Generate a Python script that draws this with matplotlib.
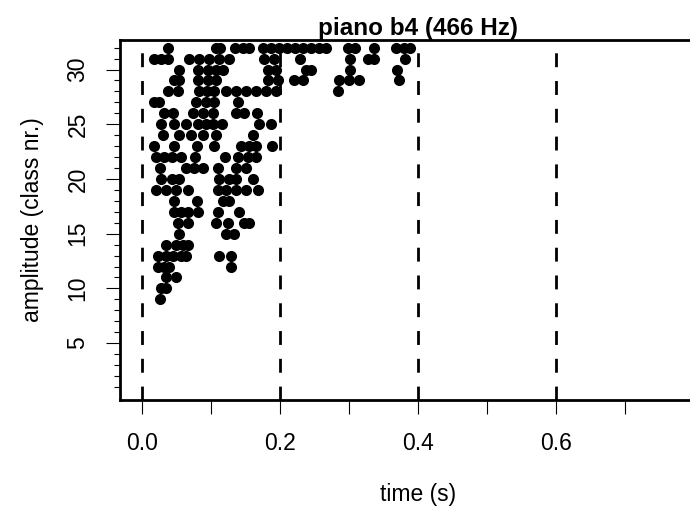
import matplotlib
matplotlib.use("Agg")
import matplotlib.pyplot as plt

# onset times (s) of detected events, one list per amplitude class
c32 = [.038, .107, .113, .135, .146, .155, .175, .187, .198, .210, .221, .233, .245, .256, .266, .298, .308, .336, .368, .379, .389]
c31 = [.017, .027, .038, .068, .082, .097, .111, .126, .177, .191, .229, .302, .327, .336, .381]
c30 = [.054, .081, .096, .107, .117, .182, .194, .237, .245, .301, .370]
c29 = [.046, .054, .081, .096, .107, .182, .197, .220, .233, .285, .300, .314, .372]
c28 = [.038, .052, .082, .094, .104, .122, .136, .151, .165, .179, .194, .284]
c27 = [.017, .025, .078, .093, .104, .139]
c26 = [.032, .045, .074, .088, .103, .136, .148, .166]
c25 = [.027, .046, .064, .081, .093, .103, .116, .169, .187]
c24 = [.030, .054, .071, .088, .107, .161]
c23 = [.017, .046, .080, .104, .143, .155, .165, .188]
c22 = [.020, .032, .043, .056, .077, .120, .139, .153, .165]
c21 = [.026, .064, .075, .088, .110, .136, .151]
c20 = [.027, .043, .054, .111, .126, .136, .161]
c19 = [.020, .035, .049, .067, .110, .122, .136, .151, .168]
c18 = [.046, .080, .117, .126]
c17 = [.046, .056, .067, .081, .110, .140]
c16 = [.052, .067, .107, .124, .148, .155]
c15 = [.054, .122, .133]
c14 = [.035, .049, .059, .067]
c13 = [.023, .035, .045, .056, .064, .111, .129]
c12 = [.023, .032, .039, .129]
c11 = [.035, .049]
c10 = [.027, .035]
c9 = [.026]

classes = list(range(32, 8, -1))
times = [c32, c31, c30, c29, c28, c27, c26, c25, c24, c23, c22, c21,
         c20, c19, c18, c17, c16, c15, c14, c13, c12, c11, c10, c9]

marker_times = [0.0, 0.2, 0.4, 0.6]
x_ticks = [0.0, 0.1, 0.2, 0.3, 0.4, 0.5, 0.6, 0.7, 0.8]
x_labels = ["0.0", "", "0.2", "", "0.4", "", "0.6", "", ""]
y_ticks = [5, 10, 15, 20, 25, 30]

plt.rcParams['font.family'] = ['Liberation Sans', 'DejaVu Sans']

fig = plt.figure(figsize=(6.9, 5.12), dpi=100)
# plot region runs past the right edge of the picture, like the original
ax = fig.add_axes([120 / 690, 112 / 512, 596 / 690, 360 / 512])

for t in marker_times:
    ax.axvline(t, color='black', lw=2, ls=(0, (5, 5)), zorder=1)

for c, ts in zip(classes, times):
    ax.plot(ts, [c] * len(ts), 'o', color='black', ms=8, mew=0, zorder=2)

ax.set_xlim(-0.032, 0.832)
ax.set_ylim(-0.2, 32.7)

ax.set_xticks(x_ticks)
ax.set_xticklabels(x_labels)
ax.set_yticks(y_ticks)
ax.set_yticks(range(1, 33), minor=True)
ax.set_yticklabels([str(v) for v in y_ticks], rotation=90, va='center')

ax.tick_params(axis='x', length=10, width=0.8, pad=13, labelsize=16.5)
ax.tick_params(axis='y', which='major', length=10, width=0.8, pad=12, labelsize=16.5)
ax.tick_params(axis='y', which='minor', length=4.5, width=0.8)

for s in ax.spines.values():
    s.set_linewidth(2)

ax.set_xlabel("time (s)", fontsize=16.5, labelpad=20)
ax.set_ylabel("amplitude (class nr.)", fontsize=16.5, labelpad=16)
ax.set_title("piano b4 (466 Hz)", fontsize=17.5, fontweight='bold', pad=1)

fig.savefig("out.png", dpi=100)
